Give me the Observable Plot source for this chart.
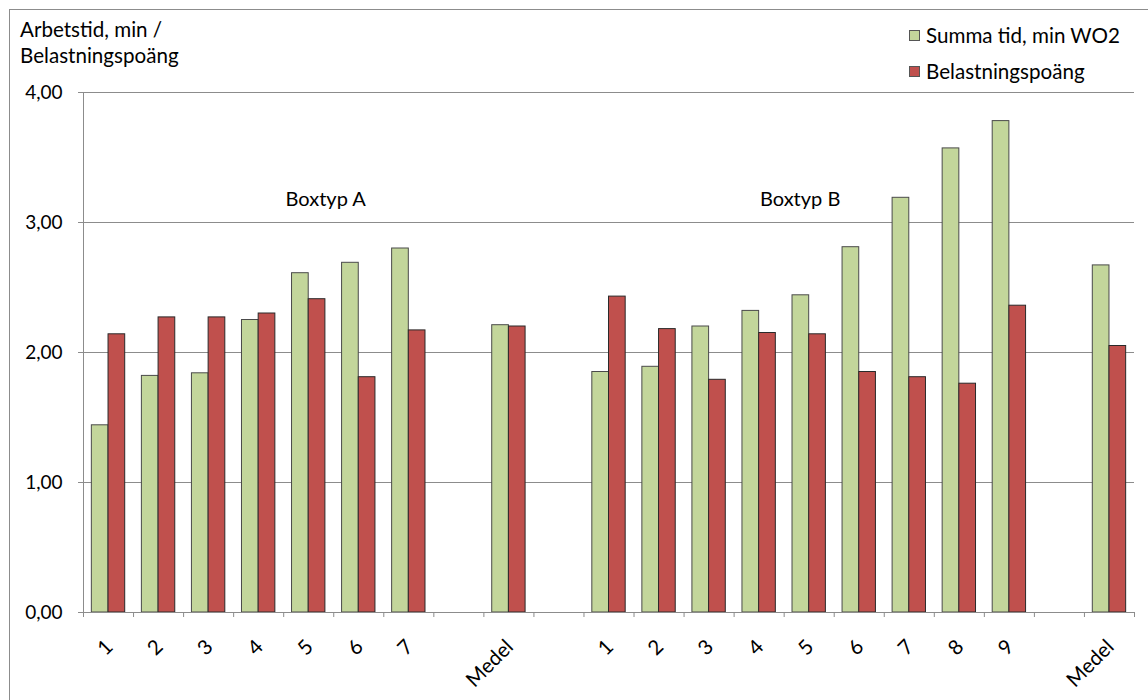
<!DOCTYPE html>
<html>
<head>
<meta charset="utf-8">
<script src="https://cdn.jsdelivr.net/npm/d3@7"></script>
<script src="https://cdn.jsdelivr.net/npm/@observablehq/plot@0.6"></script>
<style>
  html, body { margin: 0; padding: 0; background: #fff; }
  #wrap { position: relative; width: 1148px; height: 700px; overflow: hidden; font-family: Lato, "Open Sans", sans-serif; color: #000; }
  #frame { position: absolute; left: 9px; top: 9px; width: 1160px; height: 720px; border: 1px solid #8c8c8c; box-sizing: border-box; }
  #chart { position: absolute; left: 0; top: 0; }
  .lbl { position: absolute; font-size: 20.6px; line-height: 20px; white-space: nowrap; }
  .sw { position: absolute; width: 11px; height: 11px; box-sizing: border-box; border: 1px solid #555; }
</style>
</head>
<body>
<div id="wrap">
  <div id="frame"></div>
  <div id="chart"></div>
  <div class="lbl" style="left:20px; top:19px;">Arbetstid, min /</div>
  <div class="lbl" style="left:20px; top:45px;">Belastningspoäng</div>
  <div class="sw" style="left:909px; top:30px; background:#c3d69b;"></div>
  <div class="lbl" style="left:926px; top:25px;">Summa tid, min WO2</div>
  <div class="sw" style="left:909px; top:66px; background:#c0504d;"></div>
  <div class="lbl" style="left:926px; top:61px;">Belastningspoäng</div>
</div>
<script>
// Category slots (empty string = spacing slot)
const categories = ["1","2","3","4","5","6","7","","Medel","","1","2","3","4","5","6","7","8","9","","Medel"];
const summaTid = [1.44,1.82,1.84,2.25,2.61,2.69,2.80,null,2.21,null,1.85,1.89,2.20,2.32,2.44,2.81,3.19,3.57,3.78,null,2.67];
const belastning = [2.14,2.27,2.27,2.30,2.41,1.81,2.17,null,2.20,null,2.43,2.18,1.79,2.15,2.14,1.85,1.81,1.76,2.36,null,2.05];
const yTicks = [0,1,2,3,4];
const groupLabels = ["Boxtyp A","Boxtyp B"];
const groupLabelSlot = [4.84, 14.32];
const groupLabelValue = [3.18, 3.18];
const seriesNames = ["Summa tid, min WO2","Belastningspoäng"];
const colors = ["#c3d69b","#c0504d"];

const rows = categories.map((c, i) => ({i, c, summa: summaTid[i], bel: belastning[i]}));
const barsG = rows.filter(d => d.summa != null);
const barsR = rows.filter(d => d.bel != null);
const catLabels = rows.filter(d => d.c !== "");
const groups = groupLabels.map((t, k) => ({t, x: groupLabelSlot[k], y: groupLabelValue[k]}));

const FS = 19;
const chart = Plot.plot({
  width: 1148,
  height: 700,
  marginLeft: 83,
  marginRight: 14,
  marginTop: 92,
  marginBottom: 88,
  style: {fontFamily: "Lato, 'Open Sans', sans-serif", fontSize: FS + "px", background: "transparent", color: "#000"},
  x: {domain: [0, 21], axis: null},
  y: {domain: [0, 4], axis: null},
  marks: [
    Plot.ruleY(yTicks.filter(v => v > 0), {stroke: "#8c8c8c", strokeWidth: 1}),
    Plot.rectY(barsG, {x1: d => d.i + 1/6, x2: d => d.i + 0.5, y1: 0, y2: "summa", fill: colors[0], stroke: "#4a4a4a", strokeWidth: 1}),
    Plot.rectY(barsR, {x1: d => d.i + 0.5, x2: d => d.i + 5/6, y1: 0, y2: "bel", fill: colors[1], stroke: "#2a2a2a", strokeWidth: 1}),
    Plot.ruleY([0], {stroke: "#8c8c8c", strokeWidth: 1}),
    Plot.ruleX([0], {y1: 0, y2: 4, stroke: "#8c8c8c", strokeWidth: 1}),
    Plot.axisX({ticks: d3.range(0, 22), tickFormat: () => "", tickSize: 5, stroke: "#8c8c8c", label: null}),
    Plot.axisY({ticks: yTicks, tickFormat: d => d.toFixed(2).replace(".", ","), tickSize: 5, tickPadding: 16, stroke: "#8c8c8c", fill: "#000", fontSize: FS, label: null}),
    Plot.text(catLabels, {x: d => d.i + 0.5, y: () => 0, text: "c", rotate: -45, textAnchor: "end", dx: 1, dy: 31, fill: "#000", fontSize: 20.5}),
    Plot.text(groups, {x: "x", y: "y", text: "t", fill: "#000", fontSize: 20})
  ]
});
document.getElementById("chart").appendChild(chart);
</script>
</body>
</html>
